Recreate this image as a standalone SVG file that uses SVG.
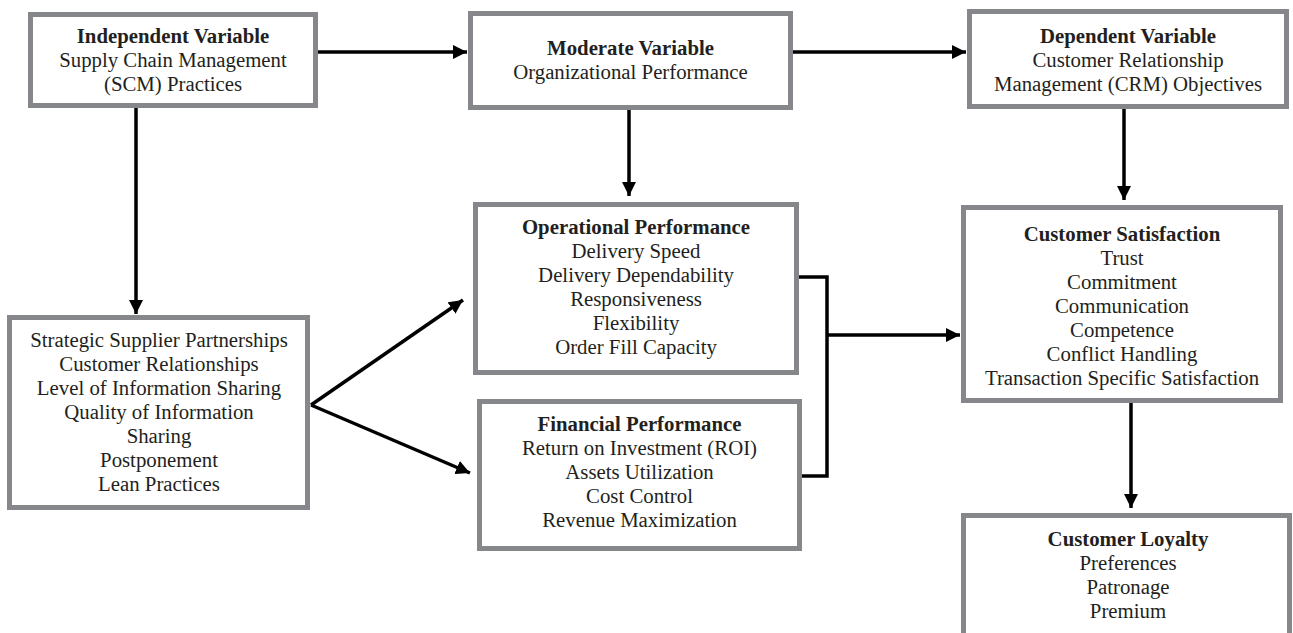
<svg xmlns="http://www.w3.org/2000/svg" width="1293" height="633" viewBox="0 0 1293 633">
<style>
.box{fill:#fff;stroke:#86878a;stroke-width:5}
text{font-family:"Liberation Serif","Times New Roman",serif;font-size:20.8px;fill:#231f20;text-anchor:middle}
.b{font-weight:bold}
.c{stroke:#000;stroke-width:3.5;fill:none}
</style>
<defs>
<marker id="ah" markerUnits="userSpaceOnUse" markerWidth="14" markerHeight="14" viewBox="0 0 14 14" refX="14" refY="7" orient="auto">
<path d="M0,0 L14,7 L0,14 Z" fill="#000"/>
</marker>
</defs>
<rect width="1293" height="633" fill="#fff"/>
<g id="connectors">
<line class="c" x1="318" y1="52" x2="467" y2="52" marker-end="url(#ah)"/>
<line class="c" x1="793" y1="52" x2="966" y2="52" marker-end="url(#ah)"/>
<line class="c" x1="136" y1="108" x2="136" y2="314" marker-end="url(#ah)"/>
<line class="c" x1="629" y1="110" x2="629" y2="196" marker-end="url(#ah)"/>
<line class="c" x1="1124" y1="109" x2="1124" y2="200" marker-end="url(#ah)"/>
<line class="c" x1="311" y1="405" x2="463" y2="300" marker-end="url(#ah)"/>
<line class="c" x1="311" y1="405" x2="470" y2="473" marker-end="url(#ah)"/>
<polyline class="c" points="799,277 827,277 827,476 802,476"/>
<line class="c" x1="827" y1="335" x2="960" y2="335" marker-end="url(#ah)"/>
<line class="c" x1="1131" y1="403" x2="1131" y2="508" marker-end="url(#ah)"/>
</g>
<g id="independent">
<rect class="box" x="30.5" y="14.5" width="285" height="91"/>
<text x="173" y="43" class="b">Independent Variable</text>
<text x="173" y="67">Supply Chain Management</text>
<text x="173" y="91">(SCM) Practices</text>
</g>
<g id="moderate">
<rect class="box" x="470.5" y="13.5" width="320" height="94"/>
<text x="630.5" y="55" class="b">Moderate Variable</text>
<text x="630.5" y="79">Organizational Performance</text>
</g>
<g id="dependent">
<rect class="box" x="969.5" y="11.5" width="317" height="95"/>
<text x="1128" y="43" class="b">Dependent Variable</text>
<text x="1128" y="67">Customer Relationship</text>
<text x="1128" y="91">Management (CRM) Objectives</text>
</g>
<g id="scm-practices">
<rect class="box" x="9.5" y="317.5" width="298" height="190"/>
<text x="159" y="347">Strategic Supplier Partnerships</text>
<text x="159" y="371">Customer Relationships</text>
<text x="159" y="395">Level of Information Sharing</text>
<text x="159" y="419">Quality of Information</text>
<text x="159" y="443">Sharing</text>
<text x="159" y="467">Postponement</text>
<text x="159" y="491">Lean Practices</text>
</g>
<g id="operational">
<rect class="box" x="475.5" y="204.5" width="321" height="168"/>
<text x="636" y="234" class="b">Operational Performance</text>
<text x="636" y="258">Delivery Speed</text>
<text x="636" y="282">Delivery Dependability</text>
<text x="636" y="306">Responsiveness</text>
<text x="636" y="330">Flexibility</text>
<text x="636" y="354">Order Fill Capacity</text>
</g>
<g id="financial">
<rect class="box" x="479.5" y="401.5" width="320" height="147"/>
<text x="639.5" y="431" class="b">Financial Performance</text>
<text x="639.5" y="455">Return on Investment (ROI)</text>
<text x="639.5" y="479">Assets Utilization</text>
<text x="639.5" y="503">Cost Control</text>
<text x="639.5" y="527">Revenue Maximization</text>
</g>
<g id="satisfaction">
<rect class="box" x="963.5" y="207.5" width="317" height="193"/>
<text x="1122" y="241" class="b">Customer Satisfaction</text>
<text x="1122" y="265">Trust</text>
<text x="1122" y="289">Commitment</text>
<text x="1122" y="313">Communication</text>
<text x="1122" y="337">Competence</text>
<text x="1122" y="361">Conflict Handling</text>
<text x="1122" y="385">Transaction Specific Satisfaction</text>
</g>
<g id="loyalty">
<path class="box" d="M963.5,645 V515.5 H1289.5 V645"/>
<text x="1128" y="546" class="b">Customer Loyalty</text>
<text x="1128" y="570">Preferences</text>
<text x="1128" y="594">Patronage</text>
<text x="1128" y="618">Premium</text>
</g>
</svg>
